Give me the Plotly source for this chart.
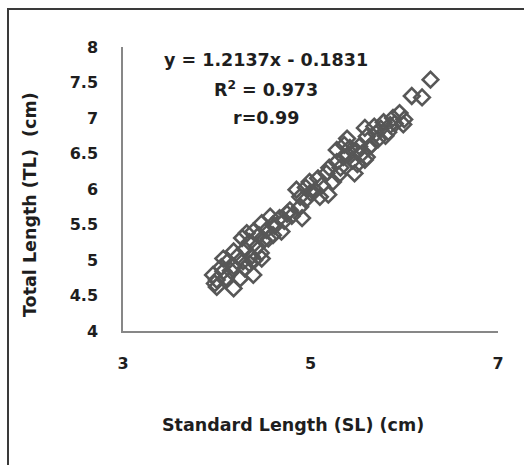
import plotly.graph_objects as go

# Standard length (SL) and total length (TL) of each specimen, in cm
sl_cm = [6.28, 6.19, 6.08, 5.99, 5.95, 5.88, 5.78, 5.83, 5.58, 5.39, 5.60, 5.58, 5.47, 5.49,
         5.40, 5.28, 5.28, 5.17, 5.24, 4.99, 4.89, 5.10, 5.19, 4.85, 4.89, 4.91, 4.78, 4.67,
         4.69, 4.57, 4.53, 4.48, 4.39, 4.27, 4.50, 4.43, 4.48, 4.37, 4.39, 4.18, 4.07, 4.18,
         4.07, 3.96, 3.98, 4.18, 4.25,
         5.70, 5.65, 5.72, 5.52, 5.45, 5.35, 5.32, 5.55, 5.62, 5.75, 5.90, 5.68, 5.20, 5.12,
         5.05, 5.00, 4.95, 4.80, 4.72, 4.62, 4.60, 4.55, 4.45, 4.35, 4.30, 4.22, 4.12, 4.05,
         4.00, 4.10, 4.30, 4.35, 4.40, 4.47, 4.32, 4.28, 4.15, 4.60, 4.75, 5.08, 5.30, 5.42,
         5.50, 5.36, 5.80, 5.85, 6.00, 5.60, 4.00, 4.95]
tl_cm = [7.54, 7.29, 7.31, 6.91, 7.07, 7.00, 6.94, 6.80, 6.86, 6.71, 6.74, 6.41, 6.22, 6.53,
         6.48, 6.38, 6.55, 6.22, 6.10, 6.10, 5.89, 5.89, 5.92, 5.99, 5.75, 5.59, 5.70, 5.59,
         5.40, 5.61, 5.42, 5.52, 5.40, 5.31, 5.28, 5.19, 5.02, 5.05, 4.79, 5.12, 5.02, 4.91,
         4.84, 4.79, 4.67, 4.60, 4.74,
         6.78, 6.62, 6.70, 6.60, 6.40, 6.45, 6.30, 6.50, 6.58, 6.85, 6.92, 6.88, 6.30, 6.05,
         5.98, 5.95, 5.85, 5.62, 5.55, 5.48, 5.35, 5.30, 5.35, 5.25, 5.15, 5.05, 4.98, 4.90,
         4.72, 4.75, 4.88, 4.95, 5.00, 5.10, 5.38, 4.98, 4.85, 5.50, 5.65, 6.15, 6.20, 6.58,
         6.35, 6.62, 6.75, 6.90, 6.98, 6.45, 4.62, 6.02]

x_ticks = [3, 5, 7]
y_ticks = [4, 4.5, 5, 5.5, 6, 6.5, 7, 7.5, 8]

fit_lines = ["y = 1.2137x - 0.1831", "R<sup>2</sup> = 0.973", "r=0.99"]

FONT = "DejaVu Sans"
TXT = "#1e1e1e"
AXIS = "#878787"

fig = go.Figure()
fig.add_trace(go.Scatter(
    x=sl_cm, y=tl_cm, mode="markers",
    marker=dict(symbol="diamond-open", size=12, color="#575757",
                line=dict(width=2.6, color="#575757")),
    showlegend=False, hoverinfo="skip",
))

W, H = 524, 465
L, R, T, B = 123, 26, 47, 134
pw, ph = W - L - R, H - T - B

def px_x(p):
    return (p - L) / pw

def px_y(p):
    return (H - B - p) / ph

fig.update_layout(
    width=W, height=H,
    margin=dict(l=L, r=R, t=T, b=B, pad=0),
    paper_bgcolor="white", plot_bgcolor="white",
    font=dict(family=FONT, color=TXT, size=16),
    xaxis=dict(range=[3, 7], tickvals=x_ticks, ticktext=[str(v) for v in x_ticks],
               showgrid=False, zeroline=False, showline=True, linecolor=AXIS, linewidth=1.5,
               ticks="", ticklabelstandoff=17,
               tickfont=dict(family=FONT, size=16, color=TXT, weight="bold")),
    yaxis=dict(range=[4, 8], tickvals=y_ticks, ticktext=[f"{v:g}" for v in y_ticks],
               showgrid=False, zeroline=False, showline=True, linecolor=AXIS, linewidth=1.5,
               ticks="", ticklabelstandoff=20,
               tickfont=dict(family=FONT, size=16, color=TXT, weight="bold")),
)

# outer frame of the chart
fig.add_shape(type="rect", xref="paper", yref="paper",
              x0=px_x(8), x1=px_x(540), y0=px_y(9), y1=px_y(480),
              line=dict(color="#3a3a3a", width=2), fillcolor="rgba(0,0,0,0)", layer="below")

# regression text block
for txt, yp in zip(fit_lines, [60, 89, 118]):
    fig.add_annotation(text=f"<b>{txt}</b>", x=px_x(266), y=px_y(yp), xref="paper", yref="paper",
                       showarrow=False, xanchor="center", yanchor="middle",
                       font=dict(family=FONT, size=17.5, color=TXT))

# axis titles
fig.add_annotation(text="<b>Standard Length (SL) (cm)</b>", x=px_x(293), y=px_y(425),
                   xref="paper", yref="paper", showarrow=False, xanchor="center", yanchor="middle",
                   font=dict(family=FONT, size=17.5, color=TXT))
fig.add_annotation(text="<b>Total Length (TL)\u00a0 (cm)</b>", x=px_x(30), y=px_y(205),
                   xref="paper", yref="paper", showarrow=False, xanchor="center", yanchor="middle",
                   textangle=-90, font=dict(family=FONT, size=17.5, color=TXT))

fig.write_html("out.html")
